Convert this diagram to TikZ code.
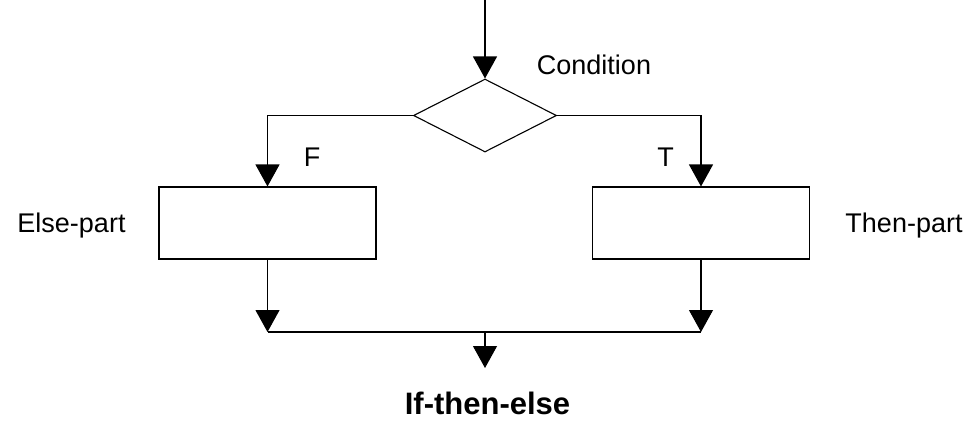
\documentclass[tikz,border=0pt]{standalone}
\usepackage{fontspec}
\setmainfont{Liberation Sans}
\usetikzlibrary{shapes.geometric,arrows.meta}
\begin{document}
\begin{tikzpicture}[x=1pt,y=-1pt,
  line width=1.1pt,
  flow/.style={-{Triangle[width=24pt,length=22pt]}},
  proc/.style={draw,rectangle,minimum width=217pt,minimum height=72pt,inner sep=0pt},
  decision/.style={draw,diamond,minimum width=143pt,minimum height=73pt,inner sep=0pt},
  lbl/.style={anchor=base,inner sep=0pt,font=\fontsize{27}{32}\selectfont},
  ttl/.style={anchor=base,inner sep=0pt,font=\fontsize{31}{36}\selectfont\bfseries}]
\useasboundingbox (0,0) rectangle (980,421);
\coordinate (top) at (485,0);
\node[decision] (cond) at (485,115.5) {};
\node[proc] (else) at (267.5,223) {};
\node[proc] (then) at (701,223) {};
\coordinate (jl) at (267.5,332);
\coordinate (jr) at (701,332);
\coordinate (jm) at (485,332);
\coordinate (out) at (485,368);
\draw[flow] (top) -- (cond.north);
\draw[flow] (cond.west) -| (else.north);
\draw[flow] (cond.east) -| (then.north);
\draw[flow] (else.south) -- (jl);
\draw[flow] (then.south) -- (jr);
\draw (jl) -- (jr);
\draw[flow] (jm) -- (out);
\node[lbl] (lcond) at (594,74) {Condition};
\node[lbl] (lf) at (312,166) {F};
\node[lbl] (lt) at (665.5,166) {T};
\node[lbl] (lelse) at (71.5,232) {Else-part};
\node[lbl] (lthen) at (904,232) {Then-part};
\node[ttl] (title) at (487.5,414) {If-then-else};
\end{tikzpicture}
\end{document}
